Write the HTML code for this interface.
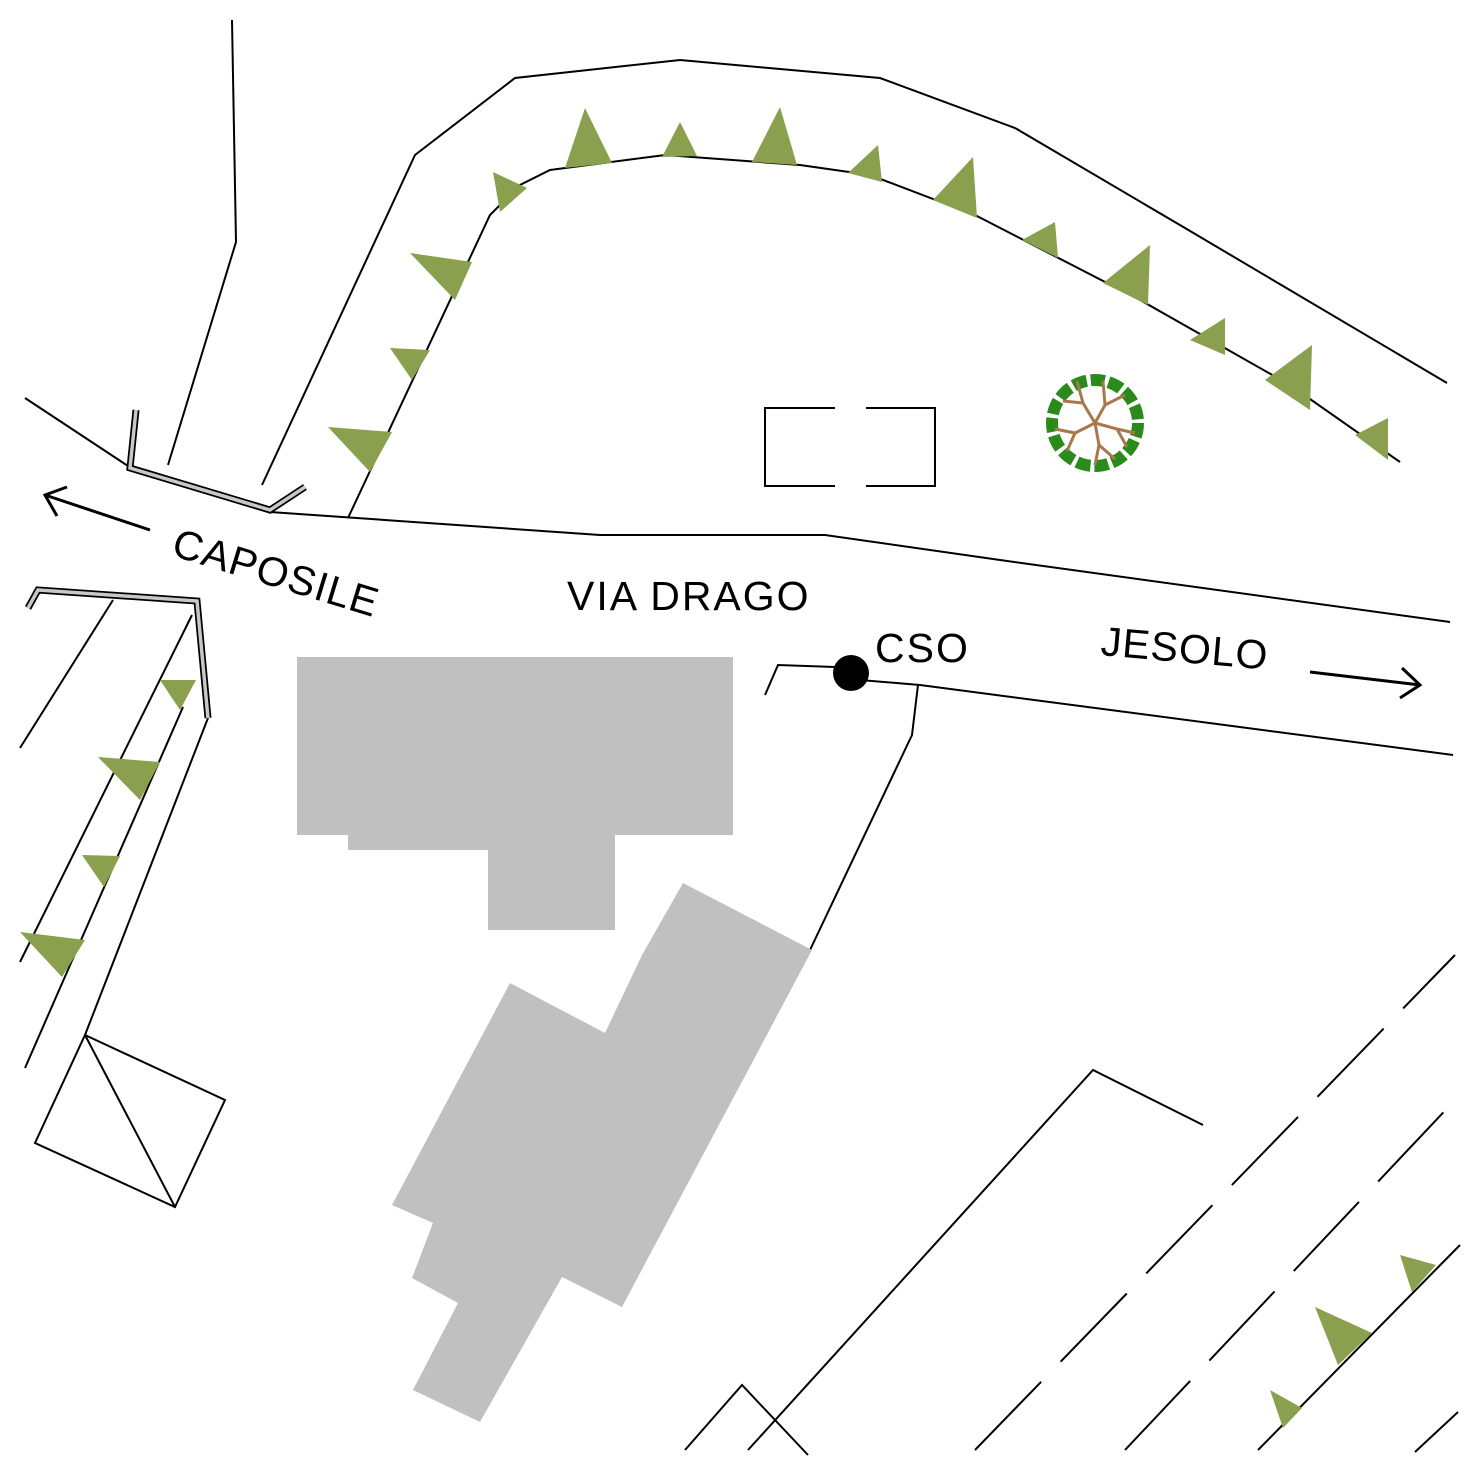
<!DOCTYPE html>
<html><head><style>html,body{margin:0;padding:0;background:#fff}svg{display:block}</style></head><body>
<svg width="1466" height="1466" viewBox="0 0 1466 1466" xmlns="http://www.w3.org/2000/svg" font-family="Liberation Sans, sans-serif">
<g fill="none" stroke="#000" stroke-width="2">
<polyline points="232,20 236,242 168,465"/>
<polyline points="262,485 415,155 515,78 680,60 880,78 1015,128 1185,228 1447,383"/>
<polyline points="348,518 490,215 520,185 550,170 665,155 800,165 870,175 975,215 1140,300 1290,385 1400,462"/>
<polyline points="25,398 128,466"/>
<polyline points="270,512 600,535 825,535 1000,560 1450,622"/>
<polyline points="765,695 778,665 835,667"/>
<polyline points="860,680 920,685 1453,755"/>
<polyline points="918,685 912,735 810,950"/>
<line x1="20" y1="748" x2="113" y2="600"/>
<line x1="20" y1="962" x2="192" y2="615"/>
<line x1="25" y1="1068" x2="183" y2="707"/>
<polyline points="208,718 85,1035"/>
<polygon points="85,1035 225,1100 175,1207 35,1143"/>
<line x1="85" y1="1035" x2="175" y2="1207"/>
<polyline points="835,408 765,408 765,486 835,486"/>
<polyline points="866,408 935,408 935,486 866,486"/>
<polyline points="748,1450 1093,1070 1203,1125"/>
<polyline points="685,1450 742,1385 808,1455"/>
<line x1="975" y1="1450" x2="1455" y2="955" stroke-dasharray="95,28"/>
<line x1="1125" y1="1450" x2="1455" y2="1100" stroke-dasharray="95,28"/>
<line x1="1258" y1="1450" x2="1460" y2="1245"/>
<line x1="1415" y1="1452" x2="1458" y2="1412"/>
</g>
<g fill="none" stroke="#000" stroke-width="7"><polyline points="136,410 130,468 270,510 305,487"/><polyline points="28,608 38,590 197,601 208,718"/></g>
<g fill="none" stroke="#c8c8c8" stroke-width="3.5"><polyline points="136,410 130,468 270,510 305,487"/><polyline points="28,608 38,590 197,601 208,718"/></g>
<g fill="#c0c0c0">
<polygon points="297,657 733,657 733,835 615,835 615,930 488,930 488,850 348,850 348,835 297,835"/>
<polygon points="683,883 812,950 622,1307 562,1277 480,1422 413,1390 458,1303 412,1278 433,1223 392,1205 510,983 605,1033 642,955"/>
</g>
<g fill="#8aa04e">
<polygon points="493,172 527,188 500,212"/>
<polygon points="565,168 585,108 612,163"/>
<polygon points="662,157 680,122 697,156"/>
<polygon points="752,162 780,107 797,165"/>
<polygon points="848,173 878,145 882,182"/>
<polygon points="933,200 973,157 977,218"/>
<polygon points="1022,240 1055,222 1058,258"/>
<polygon points="1103,283 1150,245 1148,305"/>
<polygon points="1190,340 1225,318 1225,355"/>
<polygon points="1265,380 1312,345 1310,410"/>
<polygon points="1355,435 1388,418 1388,460"/>
<polygon points="410,253 472,262 455,300"/>
<polygon points="390,348 430,350 412,380"/>
<polygon points="328,427 392,432 370,472"/>
<polygon points="160,680 196,680 180,710"/>
<polygon points="98,757 160,762 140,800"/>
<polygon points="82,855 120,856 104,887"/>
<polygon points="20,932 85,940 62,977"/>
<polygon points="1400,1255 1436,1265 1412,1292"/>
<polygon points="1315,1307 1372,1333 1338,1365"/>
<polygon points="1270,1390 1302,1408 1283,1428"/>
</g>
<g transform="translate(1095,423)">
<circle r="43" fill="none" stroke="#2a8a1a" stroke-width="12" stroke-dasharray="14,4"/>
<g stroke="#a8784a" stroke-width="3" fill="none">
<path d="M0,0 L-12,-20 L-18,-42 M-12,-20 L-32,-22 M0,0 L10,-18 L8,-42 M10,-18 L30,-28 M0,0 L22,6 L40,10 M22,6 L32,24 M0,0 L4,22 L0,42 M4,22 L20,36 M0,0 L-20,10 L-40,6 M-20,10 L-28,28"/>
</g></g>
<circle cx="851" cy="673" r="18" fill="#000"/>
<g fill="#000" font-size="41" letter-spacing="1">
<text x="170" y="555" transform="rotate(17 170 555)">CAPOSILE</text>
<text x="567" y="610" letter-spacing="2">VIA DRAGO</text>
<text x="875" y="662" letter-spacing="2">CSO</text>
<text x="1100" y="655" transform="rotate(5 1100 655)">JESOLO</text>
</g>
<g fill="none" stroke="#000" stroke-width="3">
<line x1="150" y1="530" x2="45" y2="495"/><polyline points="67,487 45,495 57,516"/>
<line x1="1310" y1="672" x2="1420" y2="685"/><polyline points="1402,668 1420,685 1400,698"/>
</g>
</svg>
</body></html>
